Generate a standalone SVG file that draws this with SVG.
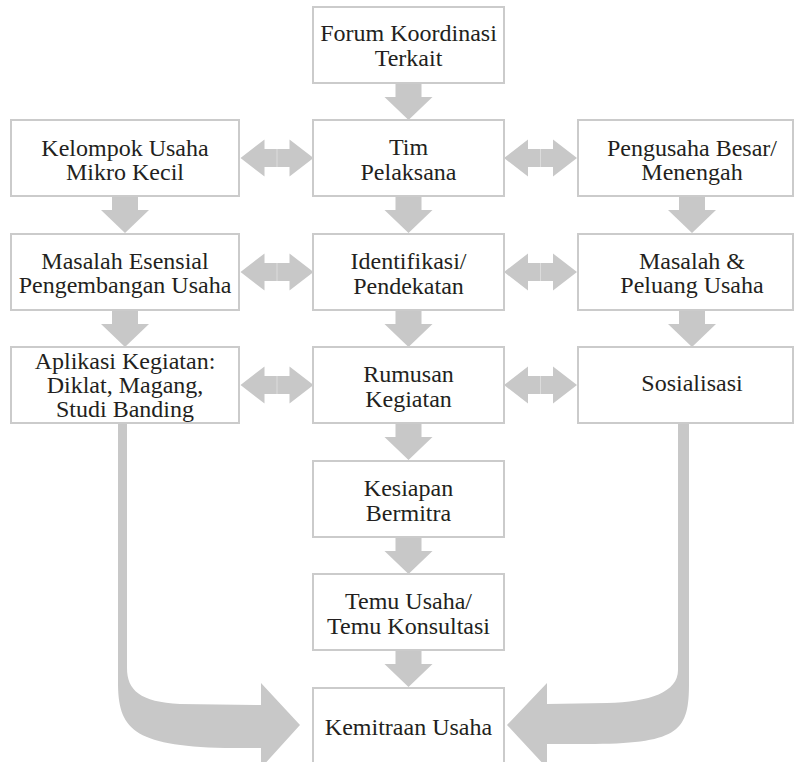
<svg xmlns="http://www.w3.org/2000/svg" width="794" height="762" viewBox="0 0 794 762">
<style>
.box{fill:#fff;stroke:#cbcbcb;stroke-width:2}
.arr{fill:#c8c8c8}
.div{stroke:#dcdcdc;stroke-width:1}
text{font-family:"Liberation Serif","Times New Roman",serif;font-size:24px;fill:#231f20;text-anchor:middle}
</style>
<defs>
<path id="down" d="M -13 0 H 13 V 14 H 24 L 0 37 L -24 14 H -13 Z"/>
<g id="dbl">
<path d="M 0 0 L 24 -18.5 V -9 H 36.5 V 9 H 24 V 18.5 Z"/>
<path d="M 73 0 L 49 -18.5 V -9 H 36.5 V 9 H 49 V 18.5 Z"/>
<line class="div" x1="36.5" y1="-9" x2="36.5" y2="9"/>
</g>
</defs>
<rect width="794" height="762" fill="#fff"/>
<g id="connectors" class="arr">
<use href="#down" x="408.5" y="83"/>
<use href="#down" x="408.5" y="196"/>
<use href="#down" x="408.5" y="310"/>
<use href="#down" x="408.5" y="423"/>
<use href="#down" x="408.5" y="537"/>
<use href="#down" x="408.5" y="650"/>
<use href="#down" x="125" y="196"/>
<use href="#down" x="125" y="310"/>
<use href="#down" x="692" y="196"/>
<use href="#down" x="692" y="310"/>
<use href="#dbl" x="240.5" y="158"/>
<use href="#dbl" x="240.5" y="272"/>
<use href="#dbl" x="240.5" y="385"/>
<use href="#dbl" x="504" y="158"/>
<use href="#dbl" x="504" y="272"/>
<use href="#dbl" x="504" y="385"/>
<path d="M 118 423 V 682 C 118 728 132 746 225 748 L 261 748 V 768 L 300 725 L 261 683 V 705 L 180 704 C 140 702 127 690 127 668 V 423 Z"/>
<path d="M 689 423 V 683 C 689 730 680 743 595 744 L 547 744 V 768 L 507 725 L 547 683 V 704 L 607 703 C 650 702 678 692 678 670 V 423 Z"/>
</g>
<g id="n-forum"><rect class="box" x="313" y="7" width="191" height="76"/><text x="408.5" y="41">Forum Koordinasi</text><text x="408.5" y="66">Terkait</text></g>
<g id="n-tim"><rect class="box" x="313" y="120" width="191" height="76"/><text x="408.5" y="155">Tim</text><text x="408.5" y="180">Pelaksana</text></g>
<g id="n-identifikasi"><rect class="box" x="313" y="234" width="191" height="76"/><text x="408.5" y="269">Identifikasi/</text><text x="408.5" y="293.5">Pendekatan</text></g>
<g id="n-rumusan"><rect class="box" x="313" y="347" width="191" height="76"/><text x="408.5" y="382">Rumusan</text><text x="408.5" y="406.5">Kegiatan</text></g>
<g id="n-kesiapan"><rect class="box" x="313" y="461" width="191" height="76"/><text x="408.5" y="496">Kesiapan</text><text x="408.5" y="520.5">Bermitra</text></g>
<g id="n-temu"><rect class="box" x="313" y="574" width="191" height="76"/><text x="408.5" y="609">Temu Usaha/</text><text x="408.5" y="633.5">Temu Konsultasi</text></g>
<g id="n-kemitraan"><rect class="box" x="313" y="688" width="191" height="90"/><text x="408.5" y="735">Kemitraan Usaha</text></g>
<g id="n-kelompok"><rect class="box" x="11" y="120" width="228" height="76"/><text x="125" y="155.5">Kelompok Usaha</text><text x="125" y="180">Mikro Kecil</text></g>
<g id="n-masalah-esensial"><rect class="box" x="11" y="234" width="228" height="76"/><text x="125" y="269">Masalah Esensial</text><text x="125" y="293">Pengembangan Usaha</text></g>
<g id="n-aplikasi"><rect class="box" x="11" y="347" width="228" height="76"/><text x="125" y="369">Aplikasi Kegiatan:</text><text x="125" y="393">Diklat, Magang,</text><text x="125" y="417">Studi Banding</text></g>
<g id="n-pengusaha"><rect class="box" x="578" y="120" width="215" height="76"/><text x="692" y="155.5">Pengusaha Besar/</text><text x="692" y="180">Menengah</text></g>
<g id="n-masalah-peluang"><rect class="box" x="578" y="234" width="215" height="76"/><text x="692" y="269">Masalah &amp;</text><text x="692" y="293">Peluang Usaha</text></g>
<g id="n-sosialisasi"><rect class="box" x="578" y="347" width="215" height="76"/><text x="692" y="391">Sosialisasi</text></g>
</svg>
